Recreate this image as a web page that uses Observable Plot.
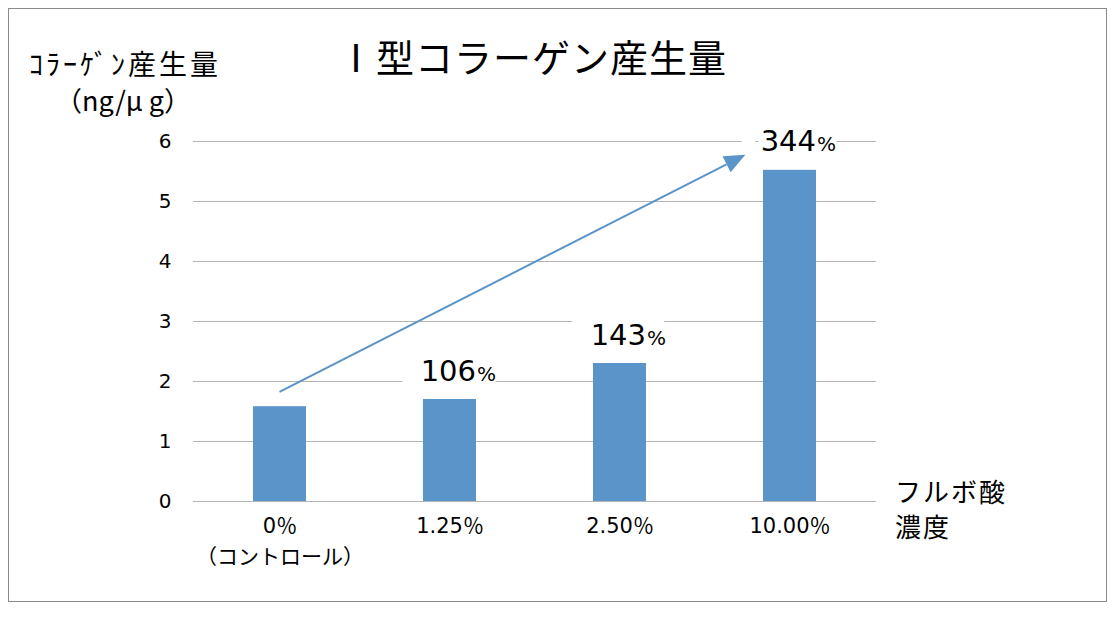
<!DOCTYPE html>
<html>
<head>
<meta charset="utf-8">
<script src="https://cdn.jsdelivr.net/npm/d3@7"></script>
<script src="https://cdn.jsdelivr.net/npm/@observablehq/plot@0.6"></script>
<style>
  html, body { margin: 0; padding: 0; background: #fff; }
  #wrap { position: relative; width: 1118px; height: 618px; overflow: hidden; font-family: "Noto Sans CJK JP", sans-serif; color: #000; }
  #frame { position: absolute; left: 8px; top: 8px; width: 1099px; height: 594px; border: 1.5px solid #8a8a8a; box-sizing: border-box; }
  #chart { position: absolute; left: 0; top: 0; }
  .t { position: absolute; white-space: nowrap; line-height: 1; }
</style>
</head>
<body>
<div id="wrap">
  <div id="frame"></div>
  <div id="chart"></div>
  <div class="t" id="title" style="left:337px; top:37px; font-size:38px; letter-spacing:1px;">Ⅰ型コラーゲン産生量</div>
  <div class="t" style="left:29px; top:49px; font-size:28px; letter-spacing:3px;">ｺﾗｰｹﾞﾝ産生量</div>
  <div class="t" style="left:55px; top:86px; font-size:27px;">（ng/μ g）</div>
  <div class="t" style="left:895px; top:478px; font-size:26px; letter-spacing:2px;">フルボ酸</div>
  <div class="t" style="left:895px; top:513px; font-size:26px; letter-spacing:2px;">濃度</div>
</div>
<script>
// ---- data ----
const categories = ["0%", "1.25%", "2.50%", "10.00%"];
const categoryLabels = ["0％\n（コントロール）", "1.25％", "2.50％", "10.00％"];
const values = [1.58, 1.70, 2.30, 5.52];
const percentLabels = ["", "106", "143", "344"];
const yTicks = [0, 1, 2, 3, 4, 5, 6];
// trend arrow: x as category index, y in data units
const arrowX = [0, 2.74];
const arrowY = [1.82, 5.77];

const data = categories.map((c, i) => ({cat: c, value: values[i], pct: percentLabels[i]}));
const labelled = data.filter(d => d.pct !== "");

const barColor = "#5b94c9";
const gridColor = "#b4b4b4";
const PAD_INNER = 0.69;
const numFont = "'DejaVu Sans', 'Noto Sans CJK JP', sans-serif";

function arrowMark(index, scales) {
  const x = scales.x, y = scales.y;
  const step = x(categories[1]) - x(categories[0]);
  let bw = typeof x.bandwidth === "function" ? x.bandwidth() : x.bandwidth;
  if (typeof bw !== "number" || !isFinite(bw)) bw = step * (1 - PAD_INNER);
  const px = i => x(categories[0]) + bw / 2 + i * step;
  const S = [px(arrowX[0]), y(arrowY[0])];
  const T = [px(arrowX[1]), y(arrowY[1])];
  const dx = T[0] - S[0], dy = T[1] - S[1];
  const len = Math.hypot(dx, dy);
  const u = [dx / len, dy / len], n = [-u[1], u[0]];
  const L = 21, w = 9;
  const B = [T[0] - L * u[0], T[1] - L * u[1]];
  const g = d3.create("svg:g");
  g.append("line")
    .attr("x1", S[0]).attr("y1", S[1]).attr("x2", B[0]).attr("y2", B[1])
    .attr("stroke", barColor).attr("stroke-width", 2);
  g.append("polygon")
    .attr("points", [T, [B[0] + w * n[0], B[1] + w * n[1]], [B[0] - w * n[0], B[1] - w * n[1]]].map(p => p.join(",")).join(" "))
    .attr("fill", barColor);
  return g.node();
}

const chart = Plot.plot({
  width: 1118,
  height: 618,
  marginLeft: 193,
  marginRight: 242,
  marginTop: 141,
  marginBottom: 117,
  style: {background: "transparent", fontFamily: numFont, color: "#000"},
  x: {domain: categories, paddingInner: PAD_INNER, paddingOuter: PAD_INNER / 2, label: null},
  y: {domain: [0, 6], label: null},
  marks: [
    Plot.gridY(yTicks, {stroke: gridColor, strokeOpacity: 1, strokeWidth: 1}),
    Plot.ruleY([0], {stroke: gridColor, strokeWidth: 1.2}),
    // white halo behind labels breaks the gridlines
    Plot.text(labelled, {x: "cat", y: "value", text: "pct", textAnchor: "end", dx: 26, dy: -19, lineAnchor: "bottom",
      fontSize: 29, fill: "white", stroke: "white", strokeWidth: 44}),
    Plot.barY(data, {x: "cat", y: "value", fill: barColor}),
    Plot.text(labelled, {x: "cat", y: "value", text: "pct", textAnchor: "end", dx: 26, dy: -19, lineAnchor: "bottom",
      fontSize: 29, fill: "#000"}),
    Plot.text(labelled, {x: "cat", y: "value", text: () => "%", textAnchor: "start", dx: 27, dy: -19, lineAnchor: "bottom",
      fontSize: 20, fill: "#000"}),
    arrowMark,
    Plot.axisY({ticks: yTicks, tickSize: 0, tickPadding: 22, fontSize: 20, tickFormat: d3.format("d"), label: null}),
    Plot.axisX({tickSize: 0, tickPadding: 9, fontSize: 21, label: null, lineHeight: 1.5,
      tickFormat: d => categoryLabels[categories.indexOf(d)]})
  ]
});
document.getElementById("chart").appendChild(chart);
</script>
</body>
</html>
